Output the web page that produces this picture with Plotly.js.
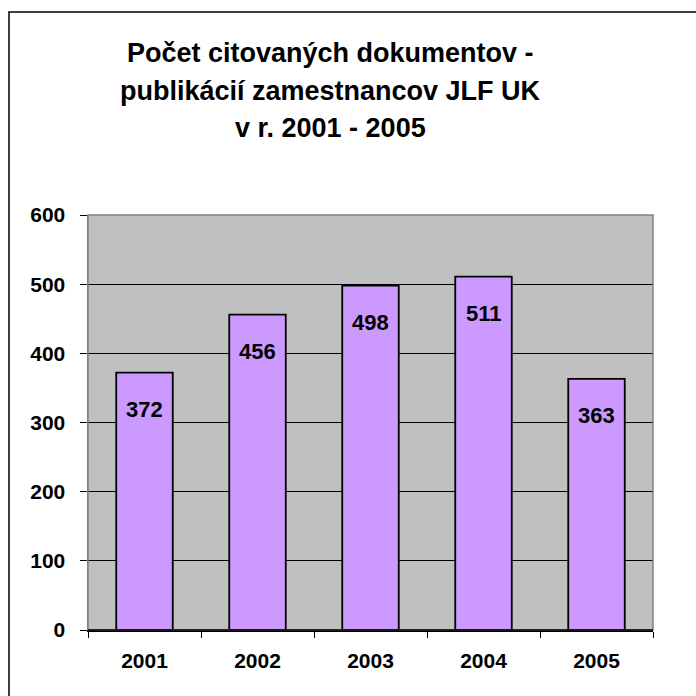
<!DOCTYPE html>
<html>
<head>
<meta charset="utf-8">
<script src="https://cdn.plot.ly/plotly-3.0.1.min.js"></script>
<style>html,body{margin:0;padding:0;background:#fff;}#chart{width:696px;height:696px;}</style>
</head>
<body>
<div id="chart"></div>
<script>
const years = ['2001', '2002', '2003', '2004', '2005'];
const counts = [372, 456, 498, 511, 363];
const titleLines = ['Počet citovaných dokumentov -', 'publikácií zamestnancov JLF UK', 'v r. 2001 - 2005'];
const yTicks = [0, 100, 200, 300, 400, 500, 600];

const FONT = 'Arial, "Liberation Sans", sans-serif';
const W = 696, H = 696;
const L = 88, R = 653, T = 215, B = 630;
const pw = R - L, ph = B - T;
const px = x => (x - L) / pw;
const py = y => (B - y) / ph;

const trace = {
  type: 'bar',
  x: years,
  y: counts,
  marker: { color: '#CC99FF', line: { color: '#000000', width: 1.8 } },
  hoverinfo: 'none'
};

const titleY = [53, 91, 128];
const annotations = titleLines.map((t, i) => ({
  text: '<b>' + t + '</b>', xref: 'paper', yref: 'paper',
  x: px(330), y: py(titleY[i]), xanchor: 'center', yanchor: 'middle',
  showarrow: false, font: { family: FONT, size: 27, color: '#000' }
}));
years.forEach((yr, i) => {
  annotations.push({
    text: '<b>' + counts[i] + '</b>', x: i, y: counts[i], xref: 'x', yref: 'y',
    yanchor: 'middle', xanchor: 'center', yshift: -37, showarrow: false,
    font: { family: FONT, size: 22, color: '#000' }
  });
});

const layout = {
  width: W, height: H,
  margin: { l: L, r: W - R, t: T, b: H - B, pad: 0 },
  paper_bgcolor: '#ffffff',
  plot_bgcolor: '#C0C0C0',
  showlegend: false,
  bargap: 0.5,
  font: { family: FONT, color: '#000' },
  xaxis: {
    type: 'category',
    range: [-0.5, years.length - 0.5],
    showgrid: false,
    showline: true, linecolor: '#000', linewidth: 1.5,
    ticks: 'outside', ticklen: 6, tickcolor: '#000', tickwidth: 1,
    tickson: 'boundaries',
    ticklabelstandoff: 11,
    tickfont: { family: FONT, size: 21, color: '#000', weight: 'bold' },
    fixedrange: true
  },
  yaxis: {
    range: [0, 600],
    tickvals: yTicks,
    ticktext: yTicks.map(String),
    showgrid: true, gridcolor: '#000', gridwidth: 1,
    zeroline: false,
    showline: true, linecolor: '#808080', linewidth: 1.5,
    ticks: 'outside', ticklen: 7, tickcolor: '#000', tickwidth: 1,
    ticklabelstandoff: 10,
    tickfont: { family: FONT, size: 21, color: '#000', weight: 'bold' },
    fixedrange: true
  },
  shapes: [
    { type: 'rect', xref: 'paper', yref: 'paper', x0: 0, x1: 1, y0: 0, y1: 1,
      line: { color: '#808080', width: 1.5 }, fillcolor: 'rgba(0,0,0,0)', layer: 'above' },
    { type: 'line', xref: 'paper', yref: 'paper', x0: 0, x1: 1, y0: 0, y1: 0,
      line: { color: '#000', width: 1.5 }, layer: 'above' },
    { type: 'rect', xref: 'paper', yref: 'paper', x0: px(9), x1: px(705), y0: py(705), y1: py(12),
      line: { color: '#000', width: 1.5 }, fillcolor: 'rgba(0,0,0,0)', layer: 'above' }
  ],
  annotations: annotations
};

Plotly.newPlot('chart', [trace], layout, { displayModeBar: false, staticPlot: true });
</script>
</body>
</html>
